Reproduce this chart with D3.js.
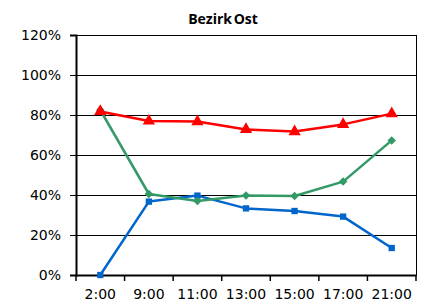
<!DOCTYPE html>
<html>
<head>
<meta charset="utf-8">
<script src="https://cdn.jsdelivr.net/npm/d3@7"></script>
<style>
  body { margin: 0; background: #fff; }
  text { font-family: "DejaVu Sans", sans-serif; fill: #000; }
</style>
</head>
<body>
<svg id="chart" width="427" height="305"></svg>
<script>
// Data
const categories = ['2:00', '9:00', '11:00', '13:00', '15:00', '17:00', '21:00'];
const redValues = [81.8, 77, 76.7, 72.8, 71.7, 75.3, 80.7];
const greenValues = [82.5, 40.5, 37, 39.7, 39.5, 46.7, 67.3];
const blueValues = [0, 36.7, 39.7, 33.3, 32, 29.2, 13.5];
const yTicks = [0, 20, 40, 60, 80, 100, 120];

const margin = {top: 35, right: 11, bottom: 30, left: 76};
const svg = d3.select('#chart');
const width = 427 - margin.left - margin.right;
const height = 305 - margin.top - margin.bottom;

const g = svg.append('g')
  .attr('transform', `translate(${margin.left},${margin.top})`);

svg.append('text')
  .attr('x', 223)
  .attr('y', 24)
  .attr('text-anchor', 'middle')
  .style('font-family', '"Open Sans", sans-serif')
  .style('font-size', '14px')
  .style('font-weight', 'bold')
  .style('word-spacing', '-2px')
  .text('Bezirk Ost');

const xScale = d3.scaleBand()
  .domain(categories)
  .range([0, width]);

const yScale = d3.scaleLinear()
  .domain([0, 120])
  .range([height, 0]);

// gridlines
g.selectAll('.grid')
  .data(yTicks)
  .join('line')
    .attr('class', 'grid')
    .attr('x1', 0)
    .attr('x2', width)
    .attr('y1', d => yScale(d) + 0.5)
    .attr('y2', d => yScale(d) + 0.5)
    .attr('stroke', '#000')
    .attr('stroke-width', 1);

// right border
g.append('line')
  .attr('x1', width + 0.5).attr('x2', width + 0.5)
  .attr('y1', 0).attr('y2', height)
  .attr('stroke', '#000');

// y axis
const yAxisG = g.append('g')
  .call(d3.axisLeft(yScale).tickValues(yTicks).tickSize(6).tickPadding(9)
    .tickFormat(d => d + '%'));
yAxisG.select('.domain').attr('stroke-width', 2);
yAxisG.selectAll('.tick line').attr('stroke-width', 1);
yAxisG.selectAll('text').style('font-size', '14px');

// x axis, ticks at category boundaries
const xAxisG = g.append('g')
  .attr('transform', `translate(0,${height})`)
  .call(d3.axisBottom(xScale).tickSize(0).tickPadding(14));
xAxisG.select('.domain').attr('stroke-width', 2);
xAxisG.selectAll('text').style('font-size', '14px');
const bounds = categories.map(c => xScale(c)).concat([width]);
xAxisG.selectAll('.bound')
  .data(bounds)
  .join('line')
    .attr('class', 'bound')
    .attr('x1', d => d).attr('x2', d => d)
    .attr('y1', 0).attr('y2', 6)
    .attr('stroke', '#000')
    .attr('stroke-width', 1.5);

const cx = c => xScale(c) + xScale.bandwidth() / 2;

const series = [
  {name: 'blue', values: blueValues, color: '#0066CC', symbol: d3.symbolSquare, size: 40, rot: 0},
  {name: 'green', values: greenValues, color: '#339966', symbol: d3.symbolSquare, size: 36, rot: 45},
  {name: 'red', values: redValues, color: '#FF0000', symbol: d3.symbolTriangle, size: 65, rot: 0}
];

const line = d3.line()
  .x((d, i) => cx(categories[i]))
  .y(d => yScale(d));

series.forEach(s => {
  g.append('path')
    .datum(s.values)
    .attr('fill', 'none')
    .attr('stroke', s.color)
    .attr('stroke-width', 2.5)
    .attr('stroke-linejoin', 'round')
    .attr('d', line);

  g.selectAll('.marker-' + s.name)
    .data(s.values)
    .join('path')
      .attr('class', 'marker-' + s.name)
      .attr('transform', (d, i) => `translate(${cx(categories[i])},${yScale(d)}) rotate(${s.rot})`)
      .attr('d', d3.symbol().type(s.symbol).size(s.size))
      .attr('fill', s.color);
});
</script>
</body>
</html>
